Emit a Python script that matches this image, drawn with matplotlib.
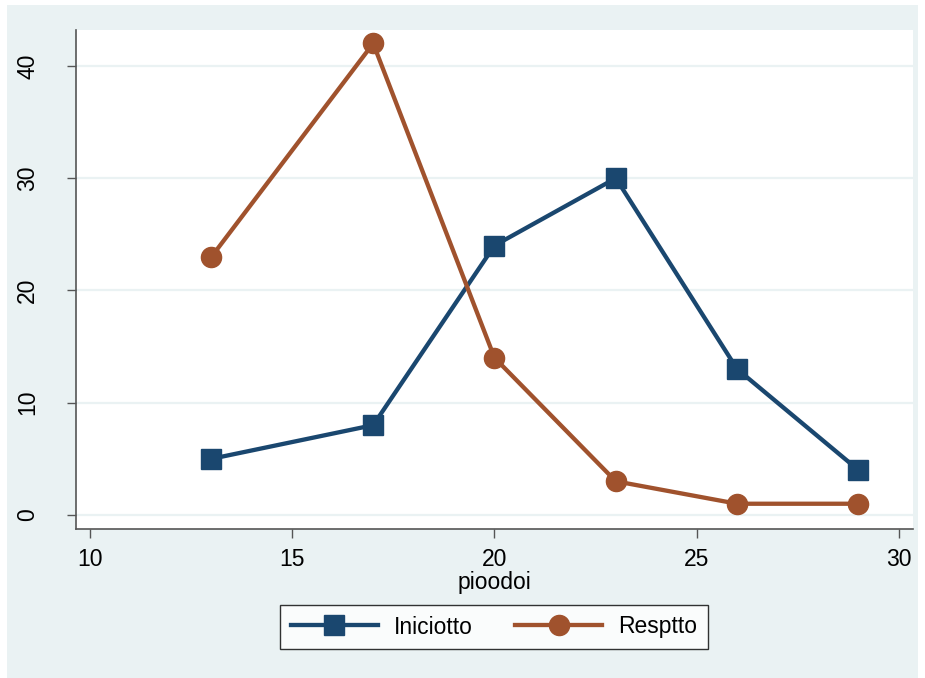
import matplotlib
matplotlib.use("Agg")
import matplotlib.pyplot as plt
from matplotlib.patches import Rectangle

periods = [13, 17, 20, 23, 26, 29]
iniciotto = [5, 8, 24, 30, 13, 4]
resptto = [23, 42, 14, 3, 1, 1]
xticks = [10, 15, 20, 25, 30]
yticks = [0, 10, 20, 30, 40]

plt.rcParams['font.family'] = ['Liberation Sans', 'DejaVu Sans']

W, H = 925, 678
fig = plt.figure(figsize=(W / 100, H / 100), dpi=100, facecolor='white')
bg = '#eaf2f3'
fig.patches.append(Rectangle((7 / W, 0), (918 - 7) / W, (678 - 5) / H,
                             transform=fig.transFigure, facecolor=bg,
                             edgecolor='none', zorder=-10))

ax = fig.add_axes([76 / W, 1 - 529 / H, (913 - 76) / W, (529 - 30) / H])
ax.set_facecolor('white')
navy = '#1a476f'
brown = '#a0522d'
ax.plot(periods, iniciotto, color=navy, lw=3.1, marker='s', ms=14,
        label='Iniciotto', zorder=3)
ax.plot(periods, resptto, color=brown, lw=3.1, marker='o', ms=14.5,
        label='Resptto', zorder=3)

ax.set_xlim(9.65, 30.35)
ax.set_ylim(-1.25, 43.2)
ax.set_xticks(xticks)
ax.set_yticks(yticks)
for s in ['top', 'right']:
    ax.spines[s].set_visible(False)
for s in ['left', 'bottom']:
    ax.spines[s].set_color('#555555')
    ax.spines[s].set_linewidth(1.2)
ax.tick_params(axis='both', direction='out', length=6.5, width=1,
               color='#555555', labelsize=16.5)
ax.tick_params(axis='x', pad=7)
ax.tick_params(axis='y', pad=20)
for lbl in ax.get_yticklabels():
    lbl.set_rotation(90)
    lbl.set_va('center')
ax.yaxis.grid(True, color=bg, lw=1.6)
ax.set_axisbelow(True)
ax.set_xlabel('pioodoi', fontsize=16.5, labelpad=0)

leg = ax.legend(loc='center', bbox_to_anchor=(494 / W, 1 - 627 / H),
                bbox_transform=fig.transFigure, ncol=2, fontsize=16.5,
                frameon=True, fancybox=False, edgecolor='black',
                handlelength=3.8, columnspacing=1.85, borderpad=0.45,
                handletextpad=0.7)
leg.get_frame().set_linewidth(1.0)

fig.savefig('out.png', dpi=100, facecolor=fig.get_facecolor())
